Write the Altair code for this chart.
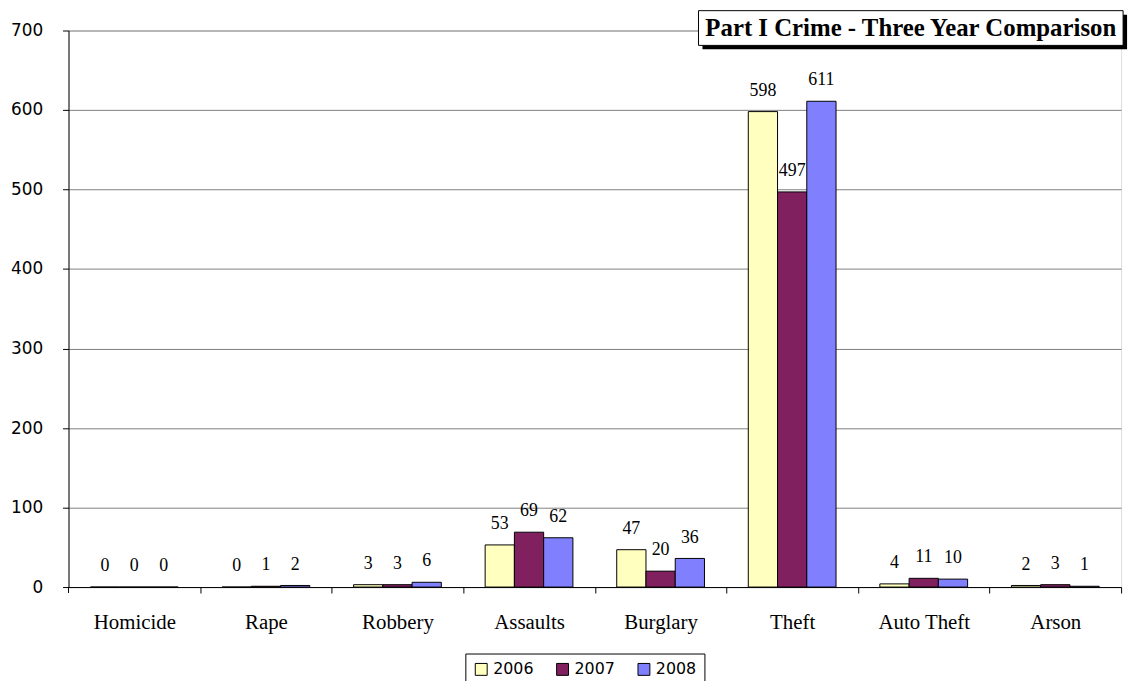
import altair as alt
import pandas as pd

categories = ["Homicide", "Rape", "Robbery", "Assaults", "Burglary", "Theft", "Auto Theft", "Arson"]
years = ["2006", "2007", "2008"]
v2006 = [0, 0, 3, 53, 47, 598, 4, 2]
v2007 = [0, 1, 3, 69, 20, 497, 11, 3]
v2008 = [0, 2, 6, 62, 36, 611, 10, 1]
colors = ["#FFFFC0", "#80205F", "#8080FF"]
title_text = "Part I Crime - Three Year Comparison"

rows = []
for yr, vals in zip(years, [v2006, v2007, v2008]):
    for c, v in zip(categories, vals):
        rows.append({"Category": c, "Year": yr, "Count": v})
df = pd.DataFrame(rows)

W, H = 1061, 561
step = W / len(categories)

x_enc = alt.X("Category:N", sort=categories, title=None,
              scale=alt.Scale(paddingInner=0.333, paddingOuter=0.1667),
              axis=alt.Axis(labelAngle=0, labelFont="Liberation Serif", labelFontSize=21,
                            labelColor="#000000", labelPadding=19, tickOffset=step / 2,
                            labelOffset=-step / 2,
                            tickSize=6, tickColor="#000000", domainColor="#000000",
                            grid=False))
xo_enc = alt.XOffset("Year:N", sort=years, scale=alt.Scale(paddingInner=0, paddingOuter=0))
y_enc = alt.Y("Count:Q", title=None,
              scale=alt.Scale(domain=[0, 700], nice=False),
              axis=alt.Axis(values=list(range(0, 701, 100)), labelFont="DejaVu Sans",
                            labelFontSize=17, labelColor="#000000", labelPadding=20,
                            tickSize=6, tickColor="#000000", domainColor="#000000",
                            grid=True, gridColor="#808080", gridWidth=1))

base = alt.Chart(df)
bars = base.mark_bar(stroke="#000000", strokeWidth=1).encode(
    x=x_enc, xOffset=xo_enc, y=y_enc,
    color=alt.Color("Year:N", sort=years, title=None,
                    scale=alt.Scale(domain=years, range=colors),
                    legend=alt.Legend(orient="none", legendX=400, legendY=628,
                                      direction="horizontal", symbolType="square",
                                      symbolSize=144, symbolStrokeColor="#000000",
                                      symbolStrokeWidth=1, labelFont="DejaVu Sans",
                                      labelFontSize=16, labelColor="#000000",
                                      labelOffset=4, columnPadding=21,
                                      strokeColor="#000000", padding=8,
                                      fillColor="#FFFFFF")),
)
labels = base.mark_text(font="Liberation Serif", fontSize=18, color="#000000",
                        baseline="alphabetic", dy=-16).encode(
    x=alt.X("Category:N", sort=categories), xOffset=alt.XOffset("Year:N", sort=years),
    y="Count:Q", text="Count:Q")

one = alt.Data(values=[{"a": 1}])
first_tick = alt.Chart(one).mark_rule(color="#000000", strokeWidth=1).encode(
    x=alt.value(0), y=alt.value(H), y2=alt.value(H + 6))
shadow = alt.Chart(one).mark_rect(color="#000000").encode(
    x=alt.value(639), x2=alt.value(1067), y=alt.value(-16), y2=alt.value(19))
box = alt.Chart(one).mark_rect(fill="#FFFFFF", stroke="#000000", strokeWidth=1).encode(
    x=alt.value(635), x2=alt.value(1063), y=alt.value(-20), y2=alt.value(15))
title = alt.Chart(one).mark_text(font="Liberation Serif", fontSize=25, fontWeight="bold",
                                 color="#000000", baseline="middle", align="center").encode(
    x=alt.value(849), y=alt.value(-2), text=alt.value(title_text))

chart = alt.layer(bars, labels, first_tick, shadow, box, title).properties(
    width=W, height=H,
    autosize=alt.AutoSizeParams(type="none"),
    padding={"left": 61, "top": 20, "right": 14, "bottom": 92},
).configure_view(stroke="#000000", strokeWidth=1.5).configure(background="#FFFFFF")

chart.save("out.html", embed_options={"renderer": "svg", "actions": False})
